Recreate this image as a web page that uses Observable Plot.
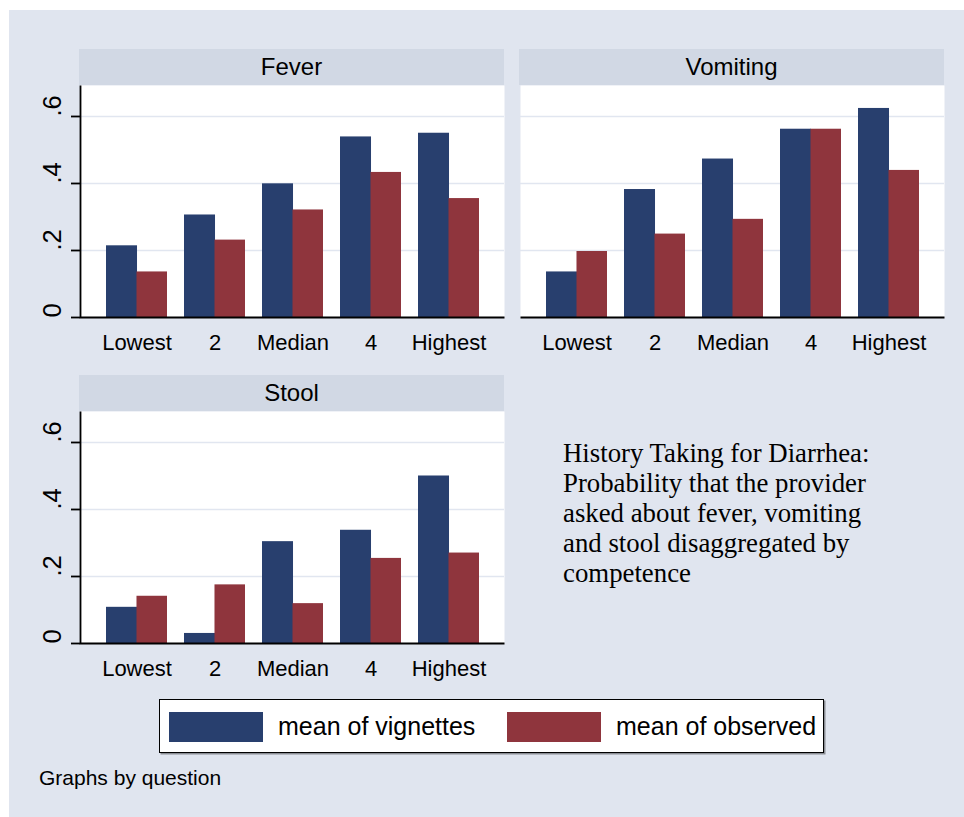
<!DOCTYPE html>
<html>
<head>
<meta charset="utf-8">
<script src="https://cdn.jsdelivr.net/npm/d3@7"></script>
<script src="https://cdn.jsdelivr.net/npm/@observablehq/plot@0.6"></script>
<style>
  html, body { margin: 0; padding: 0; background: white; }
  #page { position: relative; width: 964px; height: 817px; background: white; overflow: hidden; font-family: "Liberation Sans", Arial, sans-serif; }
  #bg { position: absolute; left: 9px; top: 10px; right: 0; bottom: 0; background: #e0e5ef; }
  .strip { position: absolute; background: #d1d8e4; color: black; font-size: 24px; text-align: center; }
  .panel { position: absolute; }
  .panel svg { overflow: visible; }
  .panel svg g[aria-label^="y-axis"] * { stroke-width: 1.8px; }
  #sidetext { position: absolute; left: 563px; top: 438px; font-family: "Liberation Serif", "Times New Roman", serif; font-size: 26.8px; line-height: 30px; color: black; white-space: nowrap; }
  #legend { position: absolute; left: 159px; top: 699px; width: 665px; height: 54px; box-sizing: border-box; border: 1.6px solid black; background: white; box-shadow: 1.5px 1.5px 0 #8a8d94; }
  .sw { position: absolute; top: 712px; width: 94px; height: 30px; }
  .lt { position: absolute; top: 714px; font-size: 25px; line-height: 25px; color: black; white-space: nowrap; }
  #note { position: absolute; left: 39px; top: 767px; font-size: 21px; line-height: 21px; color: black; white-space: nowrap; }
</style>
</head>
<body>
<div id="page">
  <div id="bg"></div>
</div>
<script>
// ---- data ----
const categories = ["Lowest", "2", "Median", "4", "Highest"];
const panelTitles = ["Fever", "Vomiting", "Stool"];
const seriesNames = ["mean of vignettes", "mean of observed"];
const feverVignettes = [0.214, 0.306, 0.399, 0.539, 0.550];
const feverObserved = [0.136, 0.231, 0.321, 0.433, 0.355];
const vomitingVignettes = [0.136, 0.382, 0.473, 0.562, 0.624];
const vomitingObserved = [0.197, 0.249, 0.293, 0.562, 0.439];
const stoolVignettes = [0.108, 0.030, 0.304, 0.338, 0.500];
const stoolObserved = [0.141, 0.175, 0.119, 0.254, 0.270];
const yTicks = [0, 0.2, 0.4, 0.6];
const yTickLabels = ["0", ".2", ".4", ".6"];
const sideText = ["History Taking for Diarrhea:", "Probability that the provider", "asked about fever, vomiting", "and stool disaggregated by", "competence"];
const noteText = "Graphs by question";

// ---- style ----
const colors = ["#283f6e", "#8f353d"];
const PW = 424, PH = 232, YMAX = 0.6925;
const padInner = 0.222, padOuter = 0.316;

const page = document.getElementById("page");

function makePanel(title, vig, obs, showY, left, plotTop) {
  const ml = showY ? 80 : 10;
  const mr = 10, mt = 5, mb = 45;
  const step = PW / (categories.length - padInner + 2 * padOuter);
  const half = step * (1 - padInner) / 2;
  const rowsV = categories.map((c, i) => ({c, v: vig[i]}));
  const rowsO = categories.map((c, i) => ({c, v: obs[i]}));
  const marks = [
    Plot.frame({fill: "white", stroke: null}),
    Plot.ruleY(yTicks.slice(1), {stroke: "#e1e6f0", strokeWidth: 1.5}),
    Plot.barY(rowsV, {x: "c", y: "v", fill: colors[0], insetRight: half - 0.5}),
    Plot.barY(rowsO, {x: "c", y: "v", fill: colors[1], insetLeft: half}),
    Plot.frame({stroke: "black", strokeWidth: 1.8, fill: null,
      strokeDasharray: showY ? `0 ${PW + PH} ${PW + PH}` : `0 ${PW + PH} ${PW} ${PH}`})
  ];
  if (showY) {
    marks.push(Plot.text(yTicks, {y: d => d, text: (d, i) => yTickLabels[i], frameAnchor: "left",
      dx: -28, rotate: -90, fontSize: 25.5, fill: "black"}));
  }
  const chart = Plot.plot({
    width: ml + PW + mr,
    height: mt + PH + mb,
    marginLeft: ml, marginRight: mr, marginTop: mt, marginBottom: mb,
    style: {fontSize: "22px", fontFamily: "'Liberation Sans', Arial, sans-serif", color: "black", background: "transparent", overflow: "visible"},
    x: {domain: categories, paddingInner: padInner, paddingOuter: padOuter, tickSize: 0, tickPadding: 17, label: null},
    y: showY
      ? {domain: [0, YMAX], ticks: yTicks, tickSize: 9, tickFormat: () => "", label: null}
      : {domain: [0, YMAX], axis: null},
    marks
  });
  const wrap = document.createElement("div");
  wrap.className = "panel";
  wrap.style.left = (left - ml) + "px";
  wrap.style.top = (plotTop - mt) + "px";
  wrap.appendChild(chart);
  page.appendChild(wrap);

  const strip = document.createElement("div");
  strip.className = "strip";
  strip.style.left = (left - 1) + "px";
  strip.style.top = (plotTop - 36) + "px";
  strip.style.width = (PW + 1) + "px";
  strip.style.height = "36px";
  strip.style.lineHeight = "36px";
  strip.textContent = title;
  page.appendChild(strip);
}

makePanel(panelTitles[0], feverVignettes, feverObserved, true, 80, 85);
makePanel(panelTitles[1], vomitingVignettes, vomitingObserved, false, 520, 85);
makePanel(panelTitles[2], stoolVignettes, stoolObserved, true, 80, 411);

// side text
const side = document.createElement("div");
side.id = "sidetext";
side.innerHTML = sideText.join("<br>");
page.appendChild(side);

// legend
const legend = document.createElement("div");
legend.id = "legend";
page.appendChild(legend);
const swX = [169, 507], txX = [278, 616];
seriesNames.forEach((name, i) => {
  const sw = document.createElement("div");
  sw.className = "sw";
  sw.style.left = swX[i] + "px";
  sw.style.background = colors[i];
  page.appendChild(sw);
  const t = document.createElement("div");
  t.className = "lt";
  t.style.left = txX[i] + "px";
  t.textContent = name;
  page.appendChild(t);
});

// note
const note = document.createElement("div");
note.id = "note";
note.textContent = noteText;
page.appendChild(note);
</script>
</body>
</html>
